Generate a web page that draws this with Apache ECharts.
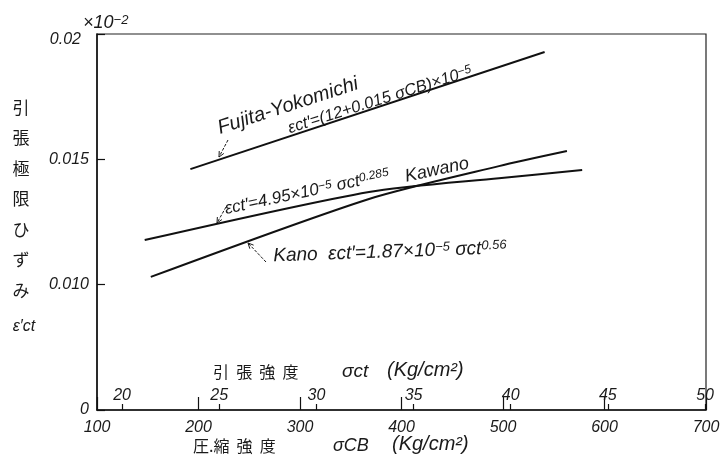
<!DOCTYPE html>
<html><head><meta charset="utf-8">
<script src="https://cdn.jsdelivr.net/npm/echarts@6/dist/echarts.min.js"></script>
<style>html,body{margin:0;padding:0;background:#fff}#c{width:727px;height:467px}</style>
</head><body><div id="c"></div>
<script>
// Axis ticks
const compressiveTicks = [100, 200, 300, 400, 500, 600, 700];   // σCB (Kg/cm²)
const tensileTicks = [20, 25, 30, 35, 40, 45, 50];              // σct (Kg/cm²)
const strainTicks = [0.005, 0.010, 0.015, 0.020];               // ×10^-2
const strainTickLabels = ['0', '0.010', '0.015', '0.02'];

// Series values (x: σCB, y: ε'ct ×10^-2)
const fujitaX = [192, 541];
const fujitaY = [0.01461, 0.01928];
const kawanoX = [147, 368, 496, 578];
const kawanoY = [0.01178, 0.01370, 0.01425, 0.01457];
const kanoX = [153, 368, 496, 563];
const kanoY = [0.01031, 0.01342, 0.01473, 0.01533];

const FONT = '"Liberation Sans", "DejaVu Sans", sans-serif';
const JP = '"Noto Sans CJK JP", sans-serif';
const INK = '#1a1a1a';

function zip(xs, ys) { return xs.map((x, i) => [x, ys[i]]); }

function arrow(x1, y1, x2, y2) {
  const a = Math.atan2(y2 - y1, x2 - x1), L = 6, s = 0.45;
  return {
    type: 'group', children: [
      { type: 'line', shape: { x1, y1, x2, y2 }, style: { stroke: INK, lineWidth: 1, lineDash: [3, 1.5] } },
      { type: 'polyline', shape: { points: [
        [x2 - L * Math.cos(a - s), y2 - L * Math.sin(a - s)], [x2, y2],
        [x2 - L * Math.cos(a + s), y2 - L * Math.sin(a + s)]] },
        style: { stroke: INK, lineWidth: 1, fill: null } }
    ]
  };
}

function it(size) { return { fontSize: size, fontStyle: 'italic', fontFamily: FONT, fill: INK }; }
function sup(size) { return { fontSize: size, fontStyle: 'italic', fontFamily: FONT, fill: INK, verticalAlign: 'top' }; }

// deg > 0 : text rises to the right
function rtext(x, y, deg, text, rich, align) {
  return {
    type: 'text', x, y, rotation: deg * Math.PI / 180,
    style: { x: 0, y: 0, text, rich, align: align || 'center', verticalAlign: 'middle' }
  };
}

const chart = echarts.init(document.getElementById('c'), null, { renderer: 'canvas' });
const lineStyle = { color: '#111', width: 2 };

chart.setOption({
  animation: false,
  backgroundColor: '#fff',
  grid: { left: 97, top: 34, right: 21, bottom: 57, show: true, borderColor: '#222', borderWidth: 1.2 },
  xAxis: [
    {
      type: 'value', min: 100, max: 700, interval: 100, position: 'bottom',
      axisLine: { show: true, lineStyle: { color: '#111', width: 1.5 } },
      axisTick: { show: true, inside: true, length: 13, lineStyle: { color: '#111', width: 1.2 } },
      axisLabel: { fontSize: 16, fontStyle: 'italic', fontFamily: FONT, color: INK, margin: 10,
        formatter: v => compressiveTicks.includes(Math.round(v)) ? String(Math.round(v)) : '' },
      splitLine: { show: false }
    },
    {
      type: 'value', min: 18.71, max: 50.05, position: 'bottom',
      axisLine: { show: false },
      axisTick: { show: true, inside: true, length: 6, customValues: tensileTicks, lineStyle: { color: '#111', width: 1.2 } },
      axisLabel: { inside: true, customValues: tensileTicks, fontSize: 16, fontStyle: 'italic', fontFamily: FONT, color: INK, margin: 6 },
      splitLine: { show: false }
    }
  ],
  yAxis: {
    type: 'value', min: 0.005, max: 0.020, interval: 0.005,
    axisLine: { show: true, lineStyle: { color: '#111', width: 1.5 } },
    axisTick: { show: true, inside: true, length: 8, lineStyle: { color: '#111', width: 1.2 } },
    axisLabel: { fontSize: 16, fontStyle: 'italic', fontFamily: FONT, color: INK, margin: 8,
      rich: { t: { fontSize: 16, fontStyle: 'italic', fontFamily: FONT, color: INK, padding: [12, 8, 0, 0] } },
      formatter: v => {
        const i = strainTicks.findIndex(t => Math.abs(t - v) < 1e-6);
        if (i < 0) return '';
        return i === strainTicks.length - 1 ? '{t|' + strainTickLabels[i] + '}' : strainTickLabels[i];
      } },
    splitLine: { show: false }
  },
  series: [
    { name: 'Fujita-Yokomichi', type: 'line', xAxisIndex: 0, data: zip(fujitaX, fujitaY), symbol: 'none', lineStyle },
    { name: 'Kawano', type: 'line', xAxisIndex: 0, data: zip(kawanoX, kawanoY), symbol: 'none', smooth: 0.25, lineStyle },
    { name: 'Kano', type: 'line', xAxisIndex: 0, data: zip(kanoX, kanoY), symbol: 'none', smooth: 0.25, lineStyle }
  ],
  graphic: [
    // y-axis title (vertical)
    { type: 'text', x: 21, y: 92, style: { text: '引\n張\n極\n限\nひ\nず\nみ', font: '17px ' + JP, fill: INK, align: 'center', verticalAlign: 'top', lineHeight: 30.5 } },
    rtext(24, 327, 0, '{n|ε′ct}', { n: it(16) }),
    // unit multiplier
    rtext(83, 23, 0, '{n|×10}{s|−2}', { n: it(18), s: sup(13) }, 'left'),
    // secondary axis name
    { type: 'text', x: 213, y: 372, style: { text: '引  張  強  度', font: '16px ' + JP, fill: INK, align: 'left', verticalAlign: 'middle' } },
    rtext(342, 372, 0, '{n|σct}', { n: it(19) }, 'left'),
    rtext(387, 370, 0, '{n|(Kg/cm²)}', { n: it(20) }, 'left'),
    // primary axis name
    { type: 'text', x: 193, y: 446, style: { text: '圧.縮  強  度', font: '16px ' + JP, fill: INK, align: 'left', verticalAlign: 'middle' } },
    rtext(333, 446, 0, '{n|σCB}', { n: it(18) }, 'left'),
    rtext(392, 444, 0, '{n|(Kg/cm²)}', { n: it(20) }, 'left'),
    // annotations
    rtext(288, 106, 18, '{n|Fujita-Yokomichi}', { n: it(20) }),
    rtext(380, 100, 17.5, '{n|εct′=(12+0.015 σCB)×10}{s|−5}', { n: it(16.5), s: sup(12) }),
    arrow(228, 140, 219, 157),
    rtext(307, 192, 12, '{n|εct′=4.95×10}{s|−5}{n| σct}{s|0.285}', { n: it(17), s: sup(12) }),
    arrow(226, 207, 217, 223),
    rtext(437, 170, 12, '{n|Kawano}', { n: it(18) }),
    rtext(390, 252, 2, '{k|Kano  εct′=1.87×10}{s|−5}{k| σct}{s|0.56}', { k: it(19), s: sup(13) }),
    arrow(266, 262, 248, 243)
  ]
});
</script></body></html>
